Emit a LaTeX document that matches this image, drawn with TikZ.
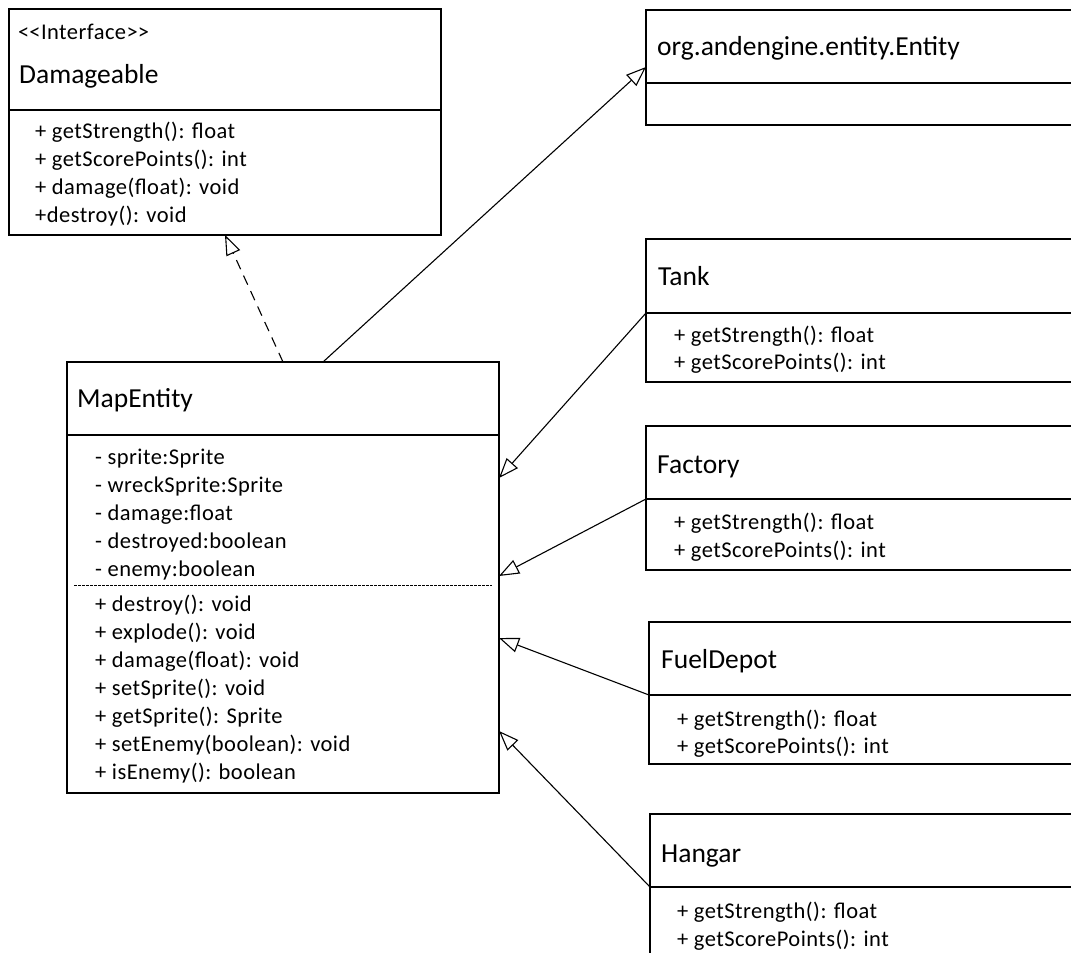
\documentclass[tikz,border=0pt]{standalone}
\usepackage{fontspec}
\setmainfont{Carlito}
\newfontfamily\spacedfont[LetterSpace=2]{Carlito}
\usetikzlibrary{arrows.meta}
\begin{document}
\begin{tikzpicture}[x=1pt,y=-1pt,
  classbox/.style={draw, line width=1.3pt, rectangle, anchor=north west, inner sep=0pt, outer sep=0pt},
  divline/.style={line width=1.3pt},
  dotline/.style={line width=1pt, dash pattern=on 2.5pt off 1.5pt},
  clsname/.style={anchor=base west, inner sep=0pt, font=\fontsize{27.5}{33}\selectfont},
  member/.style={anchor=base west, inner sep=0pt, font=\spacedfont\fontsize{22.5}{27}\selectfont},
  stereo/.style={anchor=base west, inner sep=0pt, font=\spacedfont\fontsize{22.5}{27}\selectfont},
  inherit/.style={-{Triangle[open,length=20pt,width=15pt]}, line width=1.1pt},
  realize/.style={inherit, dash pattern=on 10pt off 7pt}]
\useasboundingbox (0,0) rectangle (1071,953);
\clip (0,0) rectangle (1071,953);

% Damageable
\node[classbox, minimum width=432pt, minimum height=226pt] (dmg) at (9,9) {};
\draw[divline] (9,110) -- (441,110);
\node[stereo] (dmgst) at (18,39) {<\kern0pt<Interface>\kern0pt>};
\node[clsname] (dmgname) at (19,83) {Damageable};
\node[member] (dm1) at (35,138) {+ getStrength(): float};
\node[member] (dm2) at (35,166) {+ getScorePoints(): int};
\node[member] (dm3) at (35,194) {+ damage(float): void};
\node[member] (dm4) at (35,222) {+destroy(): void};

% Entity
\node[classbox, minimum width=440pt, minimum height=115pt] (ent) at (646,10) {};
\draw[divline] (646,83) -- (1090,83);
\node[clsname] (entname) at (657,55) {org.andengine.entity.Entity};

% MapEntity
\node[classbox, minimum width=432pt, minimum height=431pt] (map) at (67,362) {};
\draw[divline] (67,435) -- (499,435);
\draw[dotline] (74,585) -- (492,585);
\node[clsname] (mapname) at (77,407) {MapEntity};
\node[member] (ma1) at (95,464) {- sprite:Sprite};
\node[member] (ma2) at (95,492) {- wreckSprite:Sprite};
\node[member] (ma3) at (95,520) {- damage:float};
\node[member] (ma4) at (95,548) {- destroyed:boolean};
\node[member] (ma5) at (95,576) {- enemy:boolean};
\node[member] (mm1) at (95,611) {+ destroy(): void};
\node[member] (mm2) at (95,639) {+ explode(): void};
\node[member] (mm3) at (95,667) {+ damage(float): void};
\node[member] (mm4) at (95,695) {+ setSprite(): void};
\node[member] (mm5) at (95,723) {+ getSprite(): Sprite};
\node[member] (mm6) at (95,751) {+ setEnemy(boolean): void};
\node[member] (mm7) at (95,779) {+ isEnemy(): boolean};

% Tank
\node[classbox, minimum width=440pt, minimum height=143pt] (tank) at (646,239) {};
\draw[divline] (646,313) -- (1090,313);
\node[clsname] (tankname) at (658,285) {Tank};
\node[member] (tk1) at (674,342) {+ getStrength(): float};
\node[member] (tk2) at (674,369) {+ getScorePoints(): int};

% Factory
\node[classbox, minimum width=440pt, minimum height=144pt] (fact) at (646,426) {};
\draw[divline] (646,499) -- (1090,499);
\node[clsname] (factname) at (657,473) {Factory};
\node[member] (fc1) at (674,529) {+ getStrength(): float};
\node[member] (fc2) at (674,557) {+ getScorePoints(): int};

% FuelDepot
\node[classbox, minimum width=440pt, minimum height=142pt] (fuel) at (649,622) {};
\draw[divline] (649,695) -- (1090,695);
\node[clsname] (fuelname) at (661,668) {FuelDepot};
\node[member] (fd1) at (677,726) {+ getStrength(): float};
\node[member] (fd2) at (677,753) {+ getScorePoints(): int};

% Hangar
\node[classbox, minimum width=440pt, minimum height=150pt] (hang) at (650,814) {};
\draw[divline] (650,887) -- (1090,887);
\node[clsname] (hangname) at (661,862) {Hangar};
\node[member] (hg1) at (677,918) {+ getStrength(): float};
\node[member] (hg2) at (677,946) {+ getScorePoints(): int};

% connector end points
\coordinate (mapTopA) at (283,362);
\coordinate (dmgBot) at (225,235);
\coordinate (mapTopB) at (323,362);
\coordinate (entLeft) at (646,67);
\coordinate (tankJ) at (646,313);
\coordinate (mapR1) at (499,478);
\coordinate (factJ) at (646,499);
\coordinate (mapR2) at (499,576);
\coordinate (fuelJ) at (649,695);
\coordinate (mapR3) at (499,638);
\coordinate (hangJ) at (650,887);
\coordinate (mapR4) at (499,731);

% connectors
\draw[realize] (mapTopA) -- (dmgBot);
\draw[inherit] (mapTopB) -- (entLeft);
\draw[inherit] (tankJ) -- (mapR1);
\draw[inherit] (factJ) -- (mapR2);
\draw[inherit] (fuelJ) -- (mapR3);
\draw[inherit] (hangJ) -- (mapR4);
\end{tikzpicture}
\end{document}
